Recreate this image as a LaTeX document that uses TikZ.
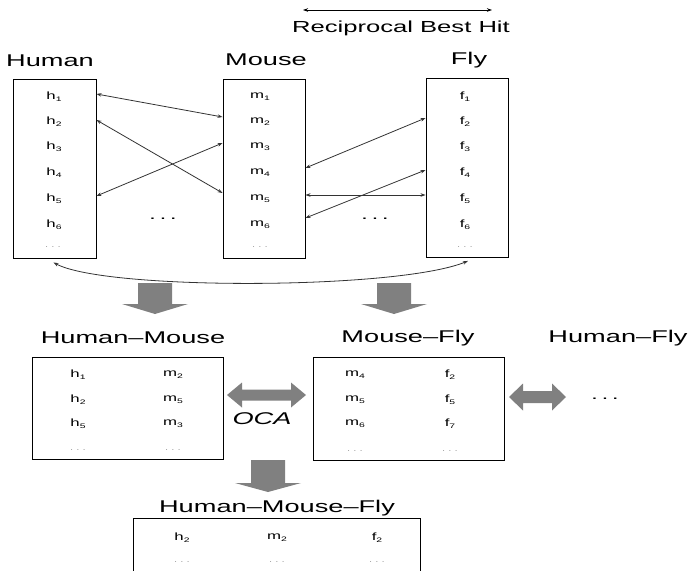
\documentclass[tikz,border=0pt]{standalone}
\usepackage{fontspec}
\setmainfont{Liberation Sans}[FakeStretch=1.6]
\usetikzlibrary{arrows.meta,calc}
\newcommand\itm[2]{#1\raisebox{-2pt}{\fontsize{6.5}{7}\selectfont #2}}
\newcommand\grayDown[4]{%
  \fill[block] (#1-17,#2) -- (#1+17,#2) -- (#1+17,#3) -- (#1+33,#3) -- (#1,#4) -- (#1-33,#3) -- (#1-17,#3) -- cycle;}
\newcommand\grayBoth[6]{% x1 x2 cy shafthalf headhalf headlen
  \fill[block] (#1,#3) -- (#1+#6,#3-#5) -- (#1+#6,#3-#4) -- (#2-#6,#3-#4) -- (#2-#6,#3-#5) -- (#2,#3)
   -- (#2-#6,#3+#5) -- (#2-#6,#3+#4) -- (#1+#6,#3+#4) -- (#1+#6,#3+#5) -- cycle;}
\begin{document}
\begin{tikzpicture}[x=1pt,y=-1pt,
  title/.style={font=\fontsize{17}{20}\selectfont, inner sep=0pt},
  box/.style={draw, line width=0.9pt, inner sep=0pt},
  item/.style={font=\fontsize{10.5}{12}\selectfont, inner sep=0pt},
  dots/.style={font=\fontsize{6}{7}\selectfont, text=black!60, inner sep=0pt},
  bigdots/.style={font=\bfseries\fontsize{10}{12}\selectfont, inner sep=0pt},
  link/.style={draw=black!80, line width=0.8pt, {Stealth[length=5pt,width=3.5pt]}-{Stealth[length=5pt,width=3.5pt]}},
  block/.style={fill=black!50, draw=none}]
\path[use as bounding box] (0,0) rectangle (693,570);
\clip (0,0) rectangle (693,570);

% legend
\coordinate (rl) at (303,10);
\coordinate (rr) at (492,10);
\draw[link, draw=black] (rl) -- (rr);
\node[font=\fontsize{16}{18}\selectfont, inner sep=0pt] (rbh) at (401,28) {Reciprocal Best Hit};

% titles
\node[title] (tH) at (50,61) {Human};
\node[title] (tM) at (266,60) {Mouse};
\node[title] (tF) at (469,60) {Fly};

% boxes
\node[box, minimum width=83pt, minimum height=179pt] (H) at (54.5,168.5) {};
\node[box, minimum width=82pt, minimum height=179pt] (M) at (264,168.5) {};
\node[box, minimum width=82pt, minimum height=179pt] (F) at (467,168) {};

\foreach \i/\y in {1/97,2/122,3/147,4/173,5/199,6/225}{
  \node[item] (h\i) at (54,\y) {\itm{h}{\i}};
  \node[item] (m\i) at (260,\y) {\itm{m}{\i}};
  \node[item] (f\i) at (465,\y) {\itm{f}{\i}};
}
\node[dots] (hd) at (53,247) {. . .};
\node[dots] (md) at (260,247) {. . .};
\node[dots] (fd) at (465,247) {. . .};

\node[bigdots] (d1) at (163,219) {. . .};
\node[bigdots] (d2) at (375,219) {. . .};

% reciprocal best hit links
\draw[link] ($(H.east |- h1)+(0,-3)$) -- ($(M.west |- m2)+(0,-5)$);
\draw[link] ($(H.east |- h2)+(0,-2)$) -- ($(M.west |- m5)+(0,-6)$);
\draw[link] ($(H.east |- h5)+(0,-3)$) -- ($(M.west |- m3)+(0,-4)$);
\draw[link] ($(M.east |- m4)+(0,-5)$) -- ($(F.west |- f2)+(0,-4)$);
\draw[link] ($(M.east |- m5)+(0,-4)$) -- ($(F.west |- f5)+(0,-4)$);
\draw[link] ($(M.east |- m6)+(0,-7)$) -- ($(F.west |- f4)+(0,-3)$);

% long curve human <-> fly
\draw[link] ($(H.south)+(-1,4)$) .. controls ($(H.south)+(50,32)$) and ($(F.south)+(-70,32)$) .. ($(F.south)+(1,3)$);

% gray down arrows
\grayDown{155}{283}{304}{314}
\grayDown{394}{283}{304}{314}

% pair titles
\node[title] (tHM) at (133,338) {Human–Mouse};
\node[title] (tMF) at (408,338) {Mouse–Fly};
\node[title] (tHF) at (618,338) {Human–Fly};

% pair boxes
\node[box, minimum width=191pt, minimum height=102pt] (HM) at (127.5,408) {};
\node[box, minimum width=191pt, minimum height=103pt] (MF) at (408.5,408.5) {};

\foreach \a/\b/\y in {1/2/375,2/5/400,5/3/424}{
  \node[item] (hm\a) at (78,\y) {\itm{h}{\a}};
  \node[item] (mh\b) at (173,\y) {\itm{m}{\b}};
}
\foreach \a/\b/\y in {4/2/375,5/5/400,6/7/424}{
  \node[item] (mf\a) at (355,\y) {\itm{m}{\a}};
  \node[item] (fm\b) at (450,\y) {\itm{f}{\b}};
}
\node[dots] (hmd1) at (78,450) {. . .};
\node[dots] (hmd2) at (173,450) {. . .};
\node[dots] (mfd1) at (355,451) {. . .};
\node[dots] (mfd2) at (450,451) {. . .};

% double arrows
\grayBoth{227}{306}{395}{5.5}{12.5}{15}
\node[font=\itshape\fontsize{17}{20}\selectfont, inner sep=0pt] (oca) at (262,419) {OCA};
\grayBoth{509}{566}{397}{6}{13.5}{14}
\node[bigdots] (d3) at (605,399) {. . .};

% bottom arrow
\grayDown{268}{460}{483}{492}

% triple
\node[title] (tHMF) at (277,508) {Human–Mouse–Fly};
\node[box, minimum width=287pt, minimum height=62pt] (HMF) at (276.5,549) {};
\node[item] (t1) at (182,538) {\itm{h}{2}};
\node[item] (t2) at (277,538) {\itm{m}{2}};
\node[item] (t3) at (377,538) {\itm{f}{2}};
\node[dots] (td1) at (182,562) {. . .};
\node[dots] (td2) at (277,562) {. . .};
\node[dots] (td3) at (377,562) {. . .};
\end{tikzpicture}
\end{document}
